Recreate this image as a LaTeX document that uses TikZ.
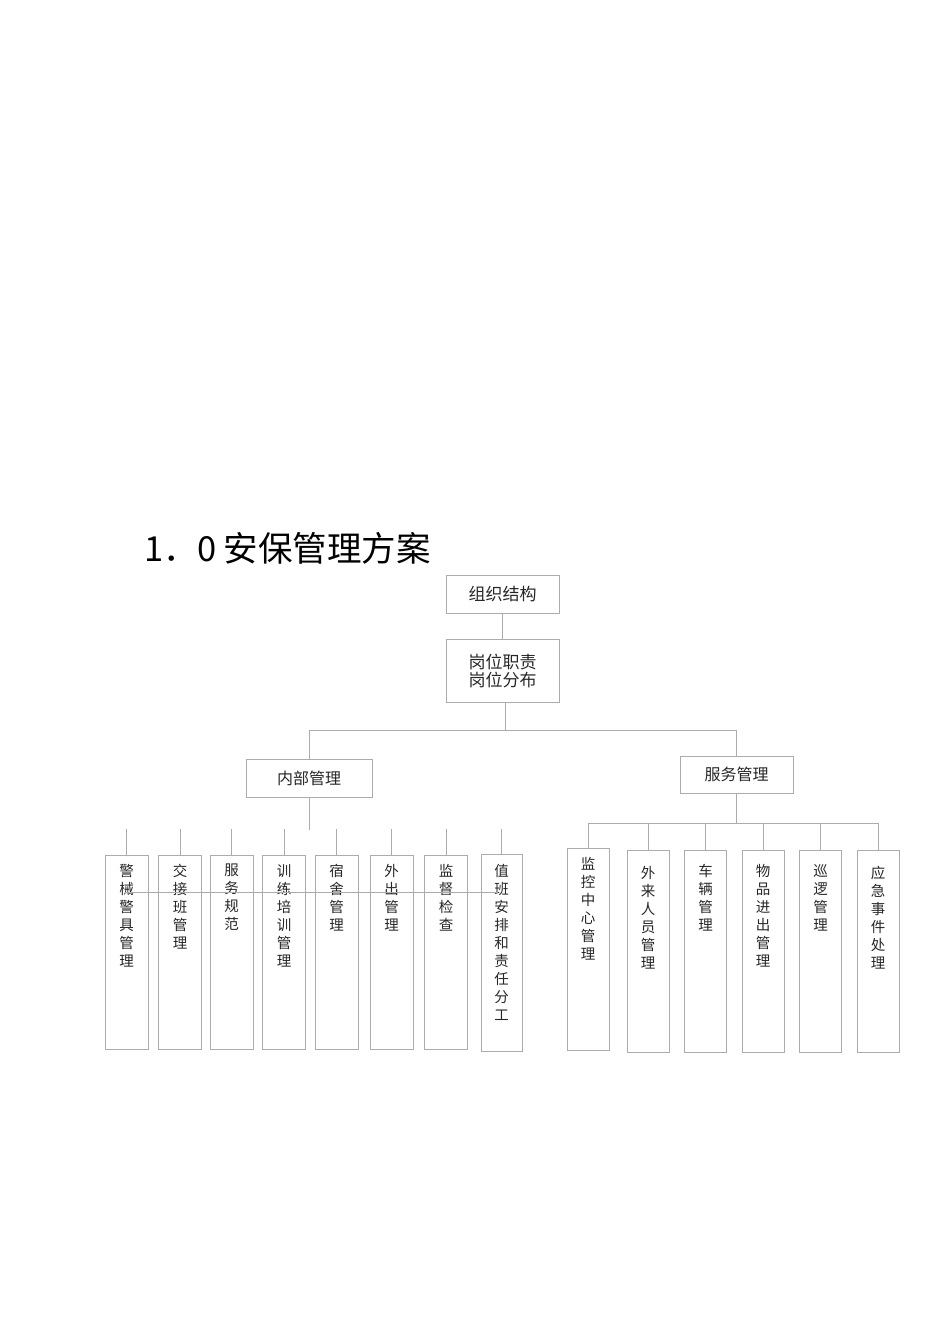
\documentclass[tikz,border=0pt]{standalone}
\usepackage{fontspec}
\setmainfont{Noto Sans CJK SC}
\usetikzlibrary{positioning}
\definecolor{boxgray}{RGB}{172,172,172}
\newcommand\boxfont{\fontsize{16}{18}\selectfont}
\newcommand\colfont{\fontsize{14.5}{18}\selectfont}

\begin{document}
\begin{tikzpicture}[x=1pt,y=-1pt,inner sep=0pt]
  \tikzstyle{link} = [draw=boxgray,line width=.8pt];
  \tikzstyle{box} = [link,minimum height=38,font=\boxfont,align=center,text=black!85];
  \tikzstyle{col} = [link,minimum width=43,minimum height=194,anchor=north];
  \tikzstyle{coltext} = [font=\colfont,align=center,anchor=north,text=black!85];
  \useasboundingbox (0,0) rectangle (950,1344);
  \node[anchor=west,font=\fontsize{34.5}{40}\selectfont] (title) at (144,548) {1．0\hspace{7pt}安保管理方案};
  % top of the tree
  \node[box,minimum width=113,font=\fontsize{17}{18}\selectfont] (org) at (502.5,594) {组织结构};
  \node[box,minimum width=113,minimum height=63,below=26pt of org,font=\fontsize{17}{18}\selectfont] (post) {岗位职责\\岗位分布};
  \node[box,minimum width=126] (inner) at (309,778) {内部管理};
  \node[box,minimum width=113,minimum height=37] (serv) at (736.5,774.5) {服务管理};
  \coordinate (split) at (505,730);
  \draw[link] (org) -- (post);
  \draw[link] (post.south -| split) -- (split);
  \draw[link] (inner.north) |- (split -| serv.north) -- (serv.north);
  % inner management
  \coordinate (innerend) at (309,830);
  \coordinate (lstub) at (0,829);
  \draw[link] (inner) -- (innerend);
  \node[col] (jx) at (126.5,855) {};
  \node[coltext,below=9pt of jx.north] (jxt) {警\\械\\警\\具\\管\\理};
  \node[col] (jj) at (180,855) {};
  \node[coltext,below=9pt of jj.north] (jjt) {交\\接\\班\\管\\理};
  \node[col] (fw) at (231.5,855) {};
  \node[coltext,below=9pt of fw.north] (fwt) {服\\务\\规\\范};
  \node[col] (px) at (284,855) {};
  \node[coltext,below=9pt of px.north] (pxt) {训\\练\\培\\训\\管\\理};
  \node[col] (ss) at (336.5,855) {};
  \node[coltext,below=9pt of ss.north] (sst) {宿\\舍\\管\\理};
  \node[col] (wc) at (391.5,855) {};
  \node[coltext,below=9pt of wc.north] (wct) {外\\出\\管\\理};
  \node[col] (jd) at (446,855) {};
  \node[coltext,below=9pt of jd.north] (jdt) {监\\督\\检\\查};
  \node[col,minimum width=41,minimum height=197] (zb) at (501.5,854) {};
  \node[coltext,below=10pt of zb.north] (zbt) {值\\班\\安\\排\\和\\责\\任\\分\\工};
  \draw[link] (jx) -- (jx |- lstub);
  \draw[link] (jj) -- (jj |- lstub);
  \draw[link] (fw) -- (fw |- lstub);
  \draw[link] (px) -- (px |- lstub);
  \draw[link] (ss) -- (ss |- lstub);
  \draw[link] (wc) -- (wc |- lstub);
  \draw[link] (jd) -- (jd |- lstub);
  \draw[link] (zb) -- (zb |- lstub);
  \coordinate (lbusw) at (125,892);
  \coordinate (lbuse) at (498,892);
  \draw[link] (lbusw) -- (lbuse);
  % service management
  \coordinate (rbus) at (0,823);
  \node[col,minimum width=42,minimum height=202] (jk) at (588,848) {};
  \node[coltext,below=9pt of jk.north] (jkt) {监\\控\\中\\心\\管\\理};
  \node[col,minimum width=42,minimum height=202] (wl) at (648,850) {};
  \node[coltext,below=16pt of wl.north] (wlt) {外\\来\\人\\员\\管\\理};
  \node[col,minimum width=42,minimum height=202] (cl) at (705.5,850) {};
  \node[coltext,below=14pt of cl.north] (clt) {车\\辆\\管\\理};
  \node[col,minimum width=42,minimum height=202] (wp) at (763,850) {};
  \node[coltext,below=14pt of wp.north] (wpt) {物\\品\\进\\出\\管\\理};
  \node[col,minimum width=42,minimum height=202] (xl) at (820.5,850) {};
  \node[coltext,below=14pt of xl.north] (xlt) {巡\\逻\\管\\理};
  \node[col,minimum width=42,minimum height=202] (yj) at (878,850) {};
  \node[coltext,below=16pt of yj.north] (yjt) {应\\急\\事\\件\\处\\理};
  \draw[link] (serv) -- (serv |- rbus);
  \draw[link] (jk |- rbus) -- (yj |- rbus);
  \draw[link] (jk) -- (jk |- rbus);
  \draw[link] (wl) -- (wl |- rbus);
  \draw[link] (cl) -- (cl |- rbus);
  \draw[link] (wp) -- (wp |- rbus);
  \draw[link] (xl) -- (xl |- rbus);
  \draw[link] (yj) -- (yj |- rbus);
\end{tikzpicture}
\end{document}
